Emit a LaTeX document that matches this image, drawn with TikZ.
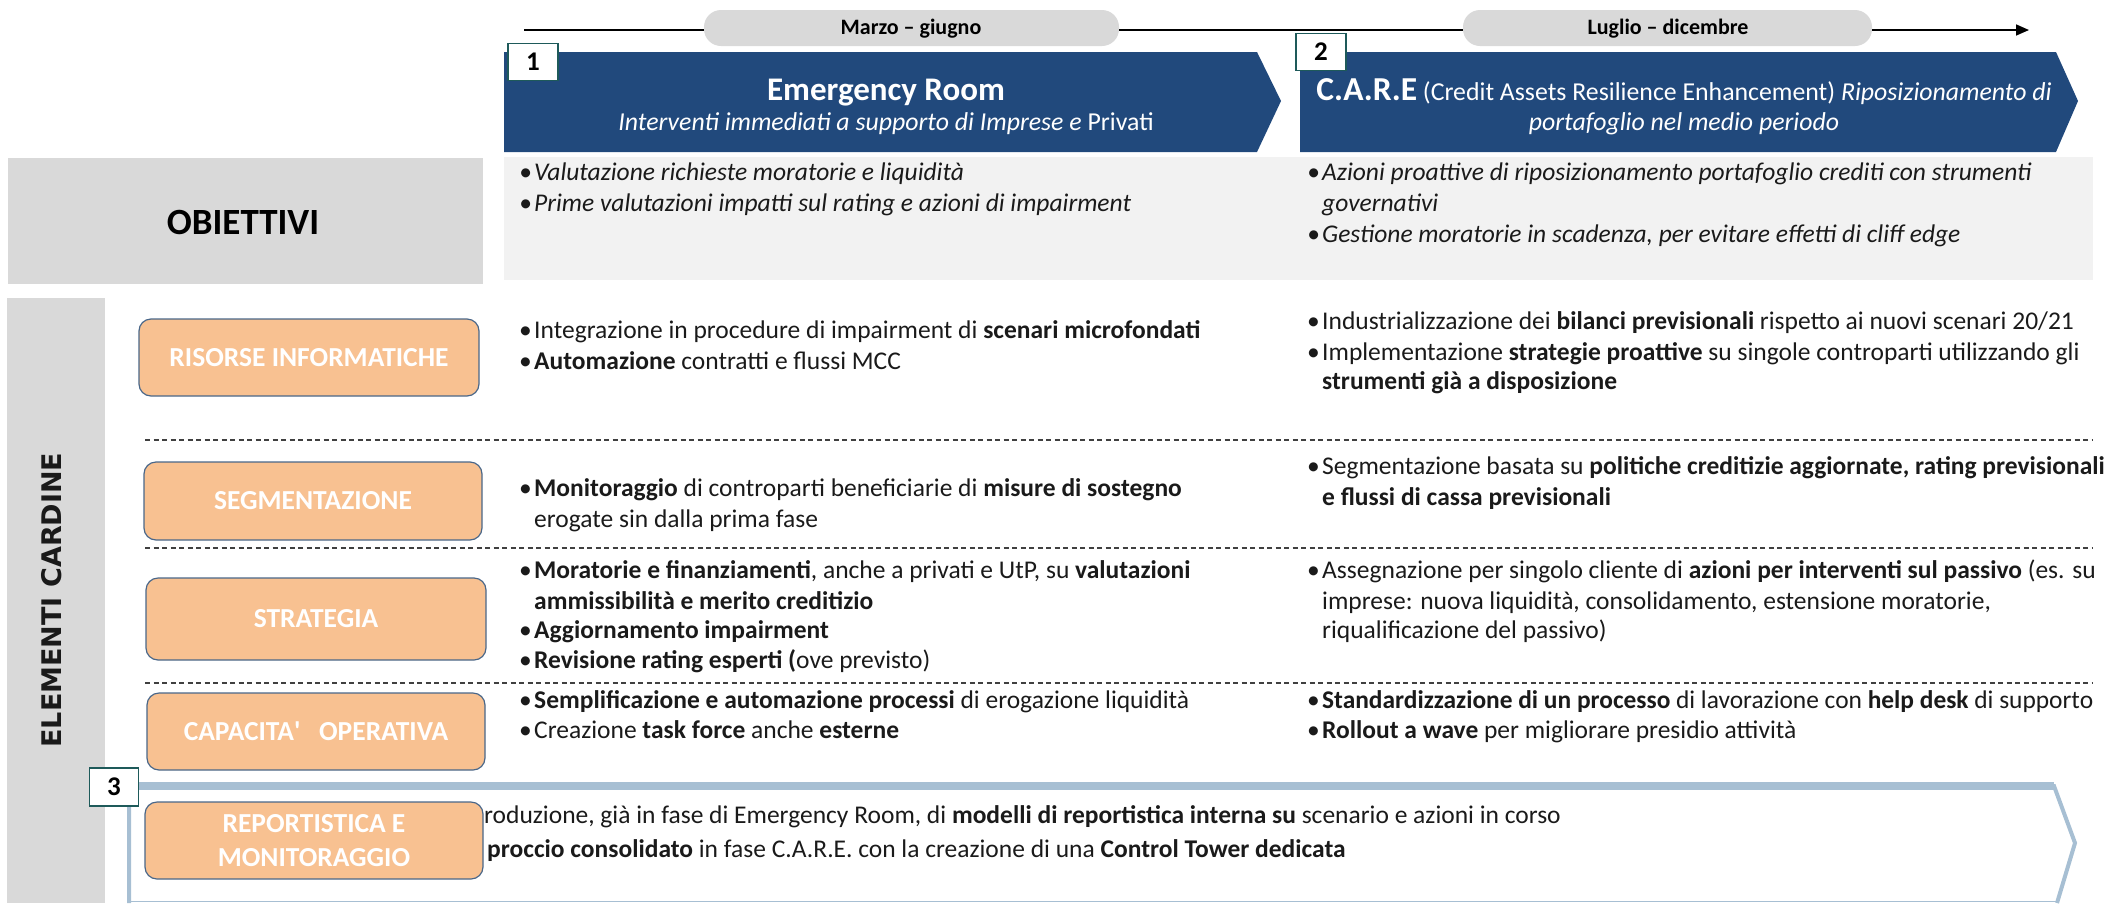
\documentclass[tikz,border=0pt]{standalone}
\usepackage{fontspec}
\usepackage{graphicx}
\setmainfont{Carlito}
\newfontfamily\widefont{DejaVu Sans}
\usetikzlibrary{arrows.meta}
\definecolor{navy}{HTML}{21497C}
\definecolor{pillgrey}{HTML}{D9D9D9}
\definecolor{panelgrey}{HTML}{F2F2F2}
\definecolor{peach}{HTML}{F8C191}
\definecolor{peachline}{HTML}{4A6789}
\definecolor{badgeline}{HTML}{1E5A5A}
\definecolor{steel}{HTML}{A7BFD3}
\definecolor{ink}{HTML}{1A1A1A}
\newcommand{\bul}{\makebox[15pt][l]{\textbullet}}
\newcommand{\ind}{\hspace*{15pt}}
% squeeze a line horizontally when it is wider than the given width
\newsavebox\fitbox
\newcommand{\fitw}[2]{\sbox\fitbox{#2}\ifdim\wd\fitbox>#1\relax\resizebox{#1}{\ht\fitbox}{\usebox\fitbox}\else\usebox\fitbox\fi}
\begin{document}
\begin{tikzpicture}[x=1pt,y=-1pt,
  txt/.style={inner sep=0pt, anchor=base west, text=ink, font=\fontsize{25.5}{30}\selectfont},
  itxt/.style={txt, font=\fontsize{25.5}{30}\selectfont\itshape},
  pill/.style={fill=pillgrey, rounded corners=17pt},
  pilltext/.style={inner sep=0pt, font=\fontsize{22}{26}\selectfont\bfseries, text=black},
  badge/.style={draw=badgeline, line width=1.5pt, fill=white, inner sep=0pt, font=\fontsize{27}{30}\selectfont\bfseries},
  catbox/.style={draw=peachline, line width=1.2pt, fill=peach, rounded corners=12pt},
  cattext/.style={inner sep=0pt, text=white, align=center, font=\fontsize{27.5}{34}\selectfont\bfseries},
  divider/.style={draw=black!75, line width=1.3pt, dash pattern=on 5pt off 3.5pt},
  banner/.style={fill=navy},
  bantext/.style={inner sep=0pt, text=white, anchor=base},
]
\useasboundingbox (0,0) rectangle (2112,903);

% ---- timeline ----
\coordinate (tl0) at (524,30);
\coordinate (tl1) at (2029,30);
\draw[line width=1.6pt, -{Triangle[length=13pt,width=11pt]}] (tl0) -- (tl1);
\fill[pill] (704,10) rectangle (1119,46);
\node[pilltext] (p1) at (911,29) {Marzo -- giugno};
\fill[pill] (1463,10) rectangle (1872,46);
\node[pilltext] (p2) at (1668,29) {Luglio -- dicembre};

% ---- phase banners ----
\fill[banner] (504,52) -- (1257,52) -- (1281,101) -- (1257,152) -- (504,152) -- cycle;
\fill[banner] (1300,52) -- (2056,52) -- (2078,101) -- (2056,152) -- (1300,152) -- cycle;
\node[bantext, font=\fontsize{33}{36}\selectfont\bfseries] (er) at (886,100) {Emergency Room};
\node[bantext, font=\fontsize{25.8}{28}\selectfont] (er2) at (886,130) {\textit{Interventi immediati a supporto di Imprese e} Privati};
\node[bantext, font=\fontsize{25.8}{28}\selectfont] (care) at (1684,100) {{\fontsize{33.5}{34}\selectfont\bfseries C.A.R.E} (Credit Assets Resilience Enhancement) \textit{Riposizionamento di}};
\node[bantext, font=\fontsize{25.8}{28}\selectfont\itshape] (care2) at (1684,130) {portafoglio nel medio periodo};
\node[badge, minimum width=50pt, minimum height=37pt] (b1) at (533,62) {1};
\node[badge, minimum width=50pt, minimum height=37pt] (b2) at (1321,52) {2};

% ---- objectives ----
\fill[pillgrey] (8,158) rectangle (483,284);
\node[inner sep=0pt, font=\fontsize{37}{40}\selectfont\bfseries, text=black] (obj) at (243,222) {OBIETTIVI};
\fill[panelgrey] (504,157) rectangle (2093,280);
\node[itxt] (o1) at (519,180) {\bul Valutazione richieste moratorie e liquidità};
\node[itxt] (o2) at (519,211) {\bul Prime valutazioni impatti sul rating e azioni di impairment};
\node[itxt] (o3) at (1307,180) {\bul Azioni proattive di riposizionamento portafoglio crediti con strumenti};
\node[itxt] (o4) at (1307,211) {\ind governativi};
\node[itxt] (o5) at (1307,242) {\bul Gestione moratorie in scadenza, per evitare effetti di cliff edge};

% ---- key elements side bar ----
\fill[pillgrey] (7,298) rectangle (105,903);
\node[rotate=90, inner sep=0pt, text=ink, font=\widefont\fontsize{27}{30}\selectfont\bfseries] (el) at (52,600) {ELEMENTI CARDINE};

% ---- dividers ----
\draw[divider] (145,440) -- (2093,440);
\draw[divider] (145,548) -- (2093,548);
\draw[divider] (145,683) -- (2093,683);

% ---- category boxes ----
\fill[catbox] (139,319) rectangle (479,396);
\node[cattext] (c1) at (309,358) {RISORSE INFORMATICHE};
\fill[catbox] (144,462) rectangle (482,540);
\node[cattext] (c2) at (313,501) {SEGMENTAZIONE};
\fill[catbox] (146,578) rectangle (486,660);
\node[cattext] (c3) at (316,619) {STRATEGIA};
\fill[catbox] (147,693) rectangle (485,770);
\node[cattext] (c4) at (316,731) {CAPACITA\textquotesingle\ \ \ OPERATIVA};

% ---- row: risorse informatiche ----
\node[txt] (r1) at (519,338) {\bul Integrazione in procedure di impairment di \textbf{scenari microfondati}};
\node[txt] (r2) at (519,369) {\bul \textbf{Automazione} contratti e flussi MCC};
\node[txt] (r3) at (1307,329) {\fitw{783pt}{\bul Industrializzazione dei \textbf{bilanci previsionali} rispetto ai nuovi scenari 20/21}};
\node[txt] (r4) at (1307,360) {\fitw{784pt}{\bul Implementazione \textbf{strategie proattive} su singole controparti utilizzando gli}};
\node[txt] (r5) at (1307,389) {\ind\textbf{strumenti già a disposizione}};

% ---- row: segmentazione ----
\node[txt] (s1) at (519,496) {\bul \textbf{Monitoraggio} di controparti beneficiarie di \textbf{misure di sostegno}};
\node[txt] (s2) at (519,527) {\ind erogate sin dalla prima fase};
\node[txt] (s3) at (1307,474) {\fitw{800pt}{\bul Segmentazione basata su \textbf{politiche creditizie aggiornate, rating previsionali}}};
\node[txt] (s4) at (1307,505) {\ind\textbf{e flussi di cassa previsionali}};

% ---- row: strategia ----
\node[txt] (t1) at (519,578) {\bul \textbf{Moratorie e finanziamenti}, anche a privati e UtP, su \textbf{valutazioni}};
\node[txt] (t2) at (519,609) {\ind\textbf{ammissibilità e merito creditizio}};
\node[txt] (t3) at (519,638) {\bul \textbf{Aggiornamento impairment}};
\node[txt] (t4) at (519,668) {\bul \textbf{Revisione rating esperti (}ove previsto)};
\node[txt] (t5) at (1307,578) {\bul Assegnazione per singolo cliente di \textbf{azioni per interventi sul passivo} (es. su};
\node[txt] (t6) at (1307,609) {\ind imprese: nuova liquidità, consolidamento, estensione moratorie,};
\node[txt] (t7) at (1307,638) {\ind riqualificazione del passivo)};

% ---- row: capacita operativa ----
\node[txt] (k1) at (519,708) {\bul \textbf{Semplificazione e automazione processi} di erogazione liquidità};
\node[txt] (k2) at (519,738) {\bul Creazione \textbf{task force} anche \textbf{esterne}};
\node[txt] (k3) at (1307,708) {\fitw{786pt}{\bul \textbf{Standardizzazione di un processo} di lavorazione con \textbf{help desk} di supporto}};
\node[txt] (k4) at (1307,738) {\bul \textbf{Rollout a wave} per migliorare presidio attività};

% ---- phase 3 frame ----
\draw[steel, line width=0.8pt] (129,901) -- (2057,901);
\draw[steel, line width=4pt, line join=miter] (129,903) -- (129,786) -- (2054,786) -- (2075,843) -- (2057,903);
\draw[steel, line width=8pt] (129,786) -- (2054,786);
\node[txt] (m1) at (484,823) {roduzione, già in fase di Emergency Room, di \textbf{modelli di reportistica interna su} scenario e azioni in corso};
\node[txt] (m2) at (487,857) {\textbf{proccio consolidato} in fase C.A.R.E. con la creazione di una \textbf{Control Tower dedicata}};
\fill[catbox] (145,802) rectangle (483,879);
\node[cattext] (c5) at (314,841) {REPORTISTICA E\\MONITORAGGIO};
\node[badge, minimum width=49pt, minimum height=38pt] (b3) at (114,787) {3};
\end{tikzpicture}
\end{document}
